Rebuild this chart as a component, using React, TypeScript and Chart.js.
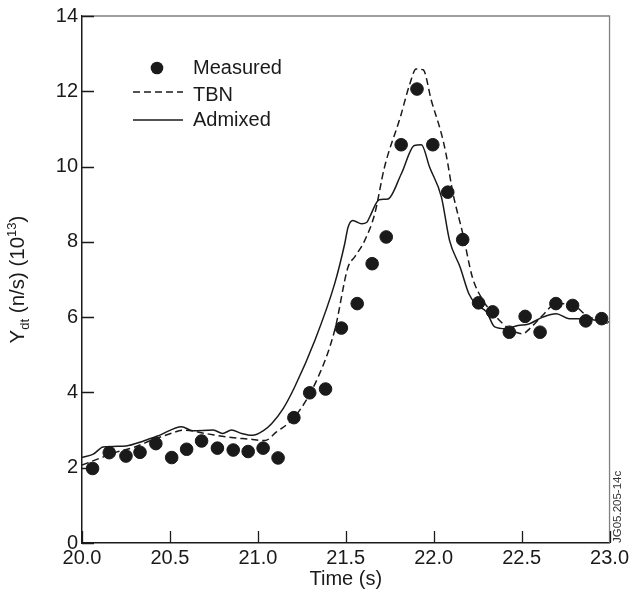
import React, { useEffect, useRef } from "react";
import { Chart, registerables } from "chart.js";
Chart.register(...registerables);

const measuredTime = [20.06, 20.155, 20.25, 20.33, 20.42, 20.51, 20.595, 20.68, 20.77, 20.86, 20.945, 21.03, 21.115, 21.205, 21.295, 21.385, 21.475, 21.565, 21.65, 21.73, 21.815, 21.905, 21.995, 22.08, 22.165, 22.255, 22.335, 22.43, 22.52, 22.605, 22.695, 22.79, 22.865, 22.955];
const measuredValue = [1.98, 2.4, 2.31, 2.41, 2.64, 2.27, 2.49, 2.71, 2.52, 2.47, 2.43, 2.52, 2.26, 3.33, 3.99, 4.09, 5.71, 6.36, 7.42, 8.13, 10.58, 12.06, 10.58, 9.32, 8.06, 6.38, 6.14, 5.6, 6.02, 5.6, 6.36, 6.31, 5.9, 5.96];

const tbnTime = [20.0, 20.1, 20.2, 20.3, 20.4, 20.5, 20.576, 20.7, 20.85, 20.95, 21.04, 21.106, 21.21, 21.343, 21.437, 21.513, 21.551, 21.608, 21.665, 21.72, 21.81, 21.864, 21.9, 21.94, 21.987, 22.044, 22.07, 22.11, 22.166, 22.22, 22.28, 22.356, 22.43, 22.507, 22.545, 22.62, 22.697, 22.81, 22.867, 22.94, 23.0];
const tbnValue = [2.07, 2.25, 2.42, 2.55, 2.74, 2.9, 3.0, 2.91, 2.8, 2.76, 2.72, 2.95, 3.35, 4.41, 5.65, 7.33, 7.6, 8.04, 8.75, 9.98, 11.31, 12.19, 12.59, 12.57, 11.75, 10.87, 10.34, 9.28, 8.21, 7.06, 6.45, 6.0, 5.69, 5.56, 5.69, 6.05, 6.36, 6.27, 6.05, 5.92, 5.87];

const admixedTime = [20.0, 20.064, 20.12, 20.25, 20.35, 20.44, 20.566, 20.63, 20.746, 20.8, 20.85, 20.907, 20.97, 21.03, 21.078, 21.144, 21.21, 21.324, 21.437, 21.494, 21.513, 21.54, 21.59, 21.62, 21.636, 21.69, 21.74, 21.816, 21.89, 21.93, 21.977, 22.044, 22.09, 22.15, 22.2, 22.24, 22.3, 22.347, 22.41, 22.48, 22.536, 22.62, 22.697, 22.77, 22.85, 22.92, 22.99];
const admixedValue = [2.27, 2.36, 2.55, 2.58, 2.71, 2.86, 3.09, 2.98, 3.0, 2.91, 3.0, 2.91, 2.86, 2.98, 3.17, 3.57, 4.15, 5.38, 6.89, 7.95, 8.39, 8.57, 8.48, 8.52, 8.66, 9.12, 9.14, 9.81, 10.56, 10.58, 9.98, 9.19, 8.04, 7.33, 6.62, 6.34, 6.14, 5.74, 5.69, 5.78, 5.81, 6.0, 6.09, 5.96, 5.96, 5.92, 5.84];

const xTickValues = [20.0, 20.5, 21.0, 21.5, 22.0, 22.5, 23.0];
const yTickValues = [0, 2, 4, 6, 8, 10, 12, 14];

const legendLabels = ["Measured", "TBN", "Admixed"];
const xTitle = "Time (s)";
const watermark = "JG05.205-14c";

const FONT = '"Liberation Sans", Arial, Helvetica, sans-serif';
const INK = "#1a1a1a";

const decor = {
  id: "decor",
  afterDraw(chart: any) {
    const ctx = chart.ctx;
    const { left, right, top, bottom } = chart.chartArea;
    const xs = chart.scales.x;
    const ys = chart.scales.y;
    ctx.save();
    // top & right frame
    ctx.strokeStyle = "#808080";
    ctx.lineWidth = 1.3;
    ctx.beginPath();
    ctx.moveTo(left, top);
    ctx.lineTo(right, top);
    ctx.lineTo(right, bottom);
    ctx.stroke();
    // inward ticks
    ctx.strokeStyle = INK;
    ctx.lineWidth = 1.3;
    ctx.beginPath();
    xTickValues.forEach((v) => {
      const px = Math.round(xs.getPixelForValue(v)) + 0.5;
      ctx.moveTo(px, bottom);
      ctx.lineTo(px, bottom - 12);
    });
    yTickValues.forEach((v) => {
      const py = Math.round(ys.getPixelForValue(v)) + 0.5;
      ctx.moveTo(left, py);
      ctx.lineTo(left + 12, py);
    });
    ctx.stroke();

    // legend
    const lx = left + 51;
    const tx = left + 111;
    ctx.fillStyle = INK;
    ctx.beginPath();
    ctx.arc(left + 75, top + 52, 6.3, 0, Math.PI * 2);
    ctx.fill();
    ctx.lineWidth = 1.5;
    ctx.setLineDash([7, 4]);
    ctx.beginPath();
    ctx.moveTo(lx, top + 76);
    ctx.lineTo(lx + 50, top + 76);
    ctx.stroke();
    ctx.setLineDash([]);
    ctx.beginPath();
    ctx.moveTo(lx, top + 104);
    ctx.lineTo(lx + 50, top + 104);
    ctx.stroke();
    ctx.font = `20px ${FONT}`;
    ctx.textBaseline = "alphabetic";
    ctx.textAlign = "left";
    ctx.fillText(legendLabels[0], tx, top + 58);
    ctx.fillText(legendLabels[1], tx, top + 85);
    ctx.fillText(legendLabels[2], tx, top + 110);

    // y title with sub/superscript
    const parts = [
      { t: "Y", size: 20.5, dy: 0 },
      { t: "dt", size: 13, dy: 5 },
      { t: " (n/s) (10", size: 20.5, dy: 0 },
      { t: "13", size: 13, dy: -8 },
      { t: ")", size: 20.5, dy: 0 },
    ];
    let total = 0;
    parts.forEach((p) => {
      ctx.font = `${p.size}px ${FONT}`;
      total += ctx.measureText(p.t).width;
    });
    ctx.save();
    ctx.translate(24, (top + bottom) / 2);
    ctx.rotate(-Math.PI / 2);
    let cx = -total / 2;
    parts.forEach((p) => {
      ctx.font = `${p.size}px ${FONT}`;
      ctx.fillText(p.t, cx, p.dy);
      cx += ctx.measureText(p.t).width;
    });
    ctx.restore();

    // watermark
    ctx.save();
    ctx.translate(right + 11, bottom);
    ctx.rotate(-Math.PI / 2);
    ctx.font = `11.5px ${FONT}`;
    ctx.fillStyle = "#333";
    ctx.textAlign = "left";
    ctx.fillText(watermark, 0, 0);
    ctx.restore();

    ctx.restore();
  },
};

export default function App() {
  const ref = useRef<HTMLCanvasElement | null>(null);
  useEffect(() => {
    if (!ref.current) return;
    const chart = new Chart(ref.current, {
      type: "scatter",
      data: {
        datasets: [
          {
            type: "scatter",
            label: legendLabels[0],
            data: measuredTime.map((t, i) => ({ x: t, y: measuredValue[i] })),
            backgroundColor: INK,
            borderColor: INK,
            pointRadius: 6.3,
            pointHoverRadius: 6.3,
            order: 0,
          },
          {
            type: "line",
            label: legendLabels[1],
            data: tbnTime.map((t, i) => ({ x: t, y: tbnValue[i] })),
            borderColor: INK,
            borderWidth: 1.5,
            borderDash: [7, 4],
            pointRadius: 0,
            fill: false,
            cubicInterpolationMode: "monotone",
            order: 1,
          },
          {
            type: "line",
            label: legendLabels[2],
            data: admixedTime.map((t, i) => ({ x: t, y: admixedValue[i] })),
            borderColor: INK,
            borderWidth: 1.5,
            pointRadius: 0,
            fill: false,
            cubicInterpolationMode: "monotone",
            order: 2,
          },
        ],
      },
      options: {
        responsive: false,
        animation: false,
        events: [],
        layout: { padding: { left: 0, top: 15, right: 22, bottom: 0 } },
        plugins: { legend: { display: false }, tooltip: { enabled: false } },
        scales: {
          x: {
            type: "linear",
            min: 20,
            max: 23,
            afterBuildTicks: (s: any) => {
              s.ticks = xTickValues.map((v) => ({ value: v }));
            },
            afterFit: (s: any) => {
              s.height = 54;
            },
            grid: { display: false, drawTicks: false },
            border: { display: true, color: INK, width: 1.5 },
            ticks: {
              color: INK,
              font: { family: FONT, size: 20 },
              padding: 3,
              maxRotation: 0,
              autoSkip: false,
              callback: (v: any) => Number(v).toFixed(1),
            },
            title: {
              display: true,
              text: xTitle,
              color: INK,
              font: { family: FONT, size: 20 },
              padding: { top: 0, bottom: 6 },
            },
          },
          y: {
            type: "linear",
            min: 0,
            max: 14,
            afterBuildTicks: (s: any) => {
              s.ticks = yTickValues.map((v) => ({ value: v }));
            },
            afterFit: (s: any) => {
              s.width = 82;
            },
            grid: { display: false, drawTicks: false },
            border: { display: true, color: INK, width: 1.5 },
            ticks: {
              color: INK,
              font: { family: FONT, size: 20 },
              padding: 4,
              autoSkip: false,
              callback: (v: any) => String(v),
            },
          },
        },
      },
      plugins: [decor],
    } as any);
    return () => chart.destroy();
  }, []);
  return (
    <div style={{ position: "absolute", left: 0, top: 0, width: 632, height: 597, background: "#fff" }}>
      <canvas ref={ref} width={632} height={597} style={{ display: "block" }} />
    </div>
  );
}
